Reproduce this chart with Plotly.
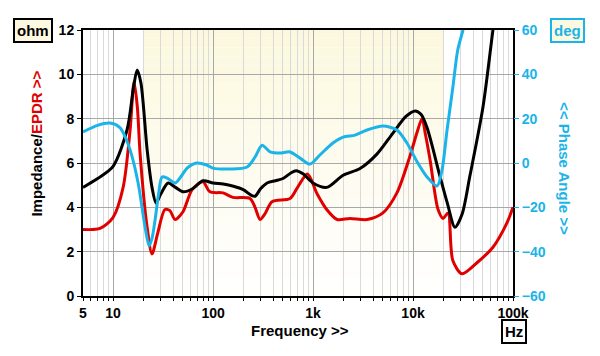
import plotly.graph_objects as go

# ---------------- data ----------------
imp_freq = [5, 7, 10, 13.8, 16, 17.4, 19, 21.9, 24.5, 26.9, 30, 35.5, 42, 50, 63, 79,
            100, 126, 160, 200, 240, 263, 300, 347, 420, 500, 600, 676, 800, 1000,
            1370, 2000, 2950, 4350, 6300, 8500, 10500, 12000, 13800, 18600, 22000,
            26300, 31000, 37000, 50000, 63000, 70000]
imp_ohm = [4.9, 5.3, 5.85, 7.5, 9.4, 10.2, 9.6, 6.6, 4.9, 4.2, 4.6, 5.1, 4.9, 4.7, 4.85, 5.2,
           5.1, 5.05, 4.95, 4.8, 4.55, 4.5, 4.85, 5.1, 5.2, 5.3, 5.55, 5.65, 5.5, 5.1,
           4.9, 5.45, 5.75, 6.4, 7.35, 8.1, 8.35, 8.2, 7.6, 5.4, 4.2,
           3.1, 3.7, 5.4, 8.5, 12.0, 13.5]

epdr_freq = [5, 7.4, 10, 12.6, 14.8, 16.2, 17.5, 18.6, 21.9, 24.5, 28, 33, 37, 41.7, 50,
             61.7, 79, 93, 126, 158, 234, 263, 295, 330, 389, 589, 700, 880, 1100, 1370,
             1740, 2340, 3470, 5000, 6900, 9300, 11000, 12300, 13300, 14800, 17800,
             20000, 22400, 25000, 30900, 43600, 63000, 87000, 100000]
epdr_ohm = [3.0, 3.05, 3.55, 4.9, 7.5, 9.65, 8.5, 6.45, 3.1, 1.9, 2.85, 3.9, 3.85, 3.45, 3.8,
            4.8, 5.15, 4.7, 4.65, 4.45, 4.4, 4.0, 3.45, 3.7, 4.25, 4.4, 4.9, 5.5, 4.6, 3.9,
            3.45, 3.5, 3.45, 3.75, 4.65, 6.3, 7.4, 8.0, 7.3, 6.15, 3.9,
            3.5, 3.75, 1.6, 1.0, 1.5, 2.2, 3.3, 4.0]

phase_freq = [5, 7, 9.3, 11.7, 13, 14.8, 17.8, 20.9, 22.9, 24.5, 26.3, 28.5, 30.9, 34.7,
              41.7, 48, 55, 69, 87, 100, 148, 219, 263, 309, 372, 468, 589, 741, 933,
              1170, 1580, 2000, 2630, 3470, 5000, 6900, 8700, 11000, 13800, 17400,
              19500, 21900, 25000, 28000, 31600, 34000]
phase_deg = [14, 17, 18, 16, 12.5, 5.9, -9, -29, -37.4, -34, -25.7, -14, -6.3, -6.8,
             -9, -6, -2.3, 0, -1, -2.3, -2.7, -1.8, 2.7, 8, 5, 4.5, 5, 2.2, -0.5,
             3.6, 9, 11.7, 12.6, 14.9, 16.7, 14.9, 9, 0.5, -6.3, -10.4,
             -3.2, 14.9, 34, 51, 60, 68]

x_tickvals = [5, 10, 100, 1000, 10000, 100000]
x_ticktext = ["5", "10", "100", "1k", "10k", "100k"]
y_ticks = [0, 2, 4, 6, 8, 10, 12]
y2_ticks = [-60, -40, -20, 0, 20, 40, 60]
audio_band = [20, 20000]

RED = "#e10000"
CYAN = "#1ab4e8"
FONT = "Liberation Sans, Arial, sans-serif"

minor_vals = []
for dec in [1, 10, 100, 1000, 10000]:
    for m in range(2, 10):
        v = m * dec
        if 5 <= v <= 100000:
            minor_vals.append(v)
minor_vals = [v for v in minor_vals if v not in x_tickvals]

fig = go.Figure()

# shaded audio band with vertical gradient (bands)
nb = 30
top = (252, 248, 222)
for i in range(nb):
    t = (i + 0.5) / nb
    c = tuple(round(255 + (top[k] - 255) * t) for k in range(3))
    fig.add_shape(type="rect", xref="x", yref="y",
                  x0=audio_band[0], x1=audio_band[1],
                  y0=12 * i / nb, y1=12 * (i + 1) / nb,
                  fillcolor="rgb(%d,%d,%d)" % c, line=dict(width=0), layer="below")

fig.add_trace(go.Scatter(x=phase_freq, y=phase_deg, yaxis="y2", mode="lines",
                         line=dict(color=CYAN, width=3, shape="spline", smoothing=0.8),
                         hoverinfo="skip", showlegend=False))
fig.add_trace(go.Scatter(x=epdr_freq, y=epdr_ohm, mode="lines",
                         line=dict(color=RED, width=3, shape="spline", smoothing=0.8),
                         hoverinfo="skip", showlegend=False))
fig.add_trace(go.Scatter(x=imp_freq, y=imp_ohm, mode="lines",
                         line=dict(color="black", width=3, shape="spline", smoothing=0.8),
                         hoverinfo="skip", showlegend=False))

tickfont = dict(family=FONT, size=14, color="black", weight="bold")

fig.update_layout(
    width=592, height=348,
    margin=dict(l=75, r=87, t=22, b=60),
    paper_bgcolor="white", plot_bgcolor="white",
    xaxis=dict(type="log", range=[0.69897, 5], tickvals=x_tickvals, ticktext=x_ticktext,
               tickfont=tickfont, ticks="outside", ticklen=3, tickcolor="black",
               showgrid=True, gridcolor="#a8a8a8", gridwidth=1,
               minor=dict(tickvals=minor_vals, ticks="outside", ticklen=3, tickcolor="black",
                          showgrid=True, gridcolor="#dadada", gridwidth=1),
               showline=True, linecolor="black", linewidth=2, mirror=True,
               zeroline=False, fixedrange=True),
    yaxis=dict(range=[0, 12], tickvals=y_ticks, tickfont=tickfont,
               ticks="outside", ticklen=4, tickcolor="black",
               showgrid=True, gridcolor="#a8a8a8", gridwidth=1,
               showline=True, linecolor="black", linewidth=2, mirror=True,
               zeroline=False),
    yaxis2=dict(range=[-60, 60], tickvals=y2_ticks, overlaying="y", side="right",
                tickfont=dict(family=FONT, size=14, color=CYAN, weight="bold"),
                ticks="outside", ticklen=5, tickcolor=CYAN,
                showgrid=False, zeroline=False, showline=False),
    annotations=[
        dict(text="<b>Frequency >></b>", xref="paper", yref="paper", x=0.505, y=-0.128,
             yanchor="middle", showarrow=False,
             font=dict(family=FONT, size=15, color="black")),
        dict(text="<b>Impedance/<span style='color:%s'>EPDR >></span></b>" % RED,
             xref="paper", yref="paper", x=-0.107, y=0.573, textangle=-90,
             xanchor="center", yanchor="middle",
             showarrow=False, font=dict(family=FONT, size=15, color="black")),
        dict(text="<b><< Phase Angle >></b>", xref="paper", yref="paper",
             x=1.121, y=0.481, textangle=90, xanchor="center", yanchor="middle",
             showarrow=False, font=dict(family=FONT, size=15, color=CYAN)),
        dict(text="<b>ohm</b>", xref="paper", yref="paper", x=-0.116, y=1.0,
             xanchor="center", yanchor="middle",
             showarrow=False, font=dict(family=FONT, size=15, color="black"),
             bgcolor="#fdf9e1", bordercolor="black", borderwidth=2, borderpad=2),
        dict(text="<b>deg</b>", xref="paper", yref="paper", x=1.1267, y=1.0,
             xanchor="center", yanchor="middle",
             showarrow=False, font=dict(family=FONT, size=15, color=CYAN),
             bgcolor="#fdf9e1", bordercolor=CYAN, borderwidth=2, borderpad=2),
        dict(text="<b>Hz</b>", xref="paper", yref="paper", x=1.0023, y=-0.134,
             xanchor="center", yanchor="middle", showarrow=False,
             font=dict(family=FONT, size=15, color="black"),
             bgcolor="white", bordercolor="black", borderwidth=2, borderpad=2),
    ],
)

fig.write_html("out.html")
